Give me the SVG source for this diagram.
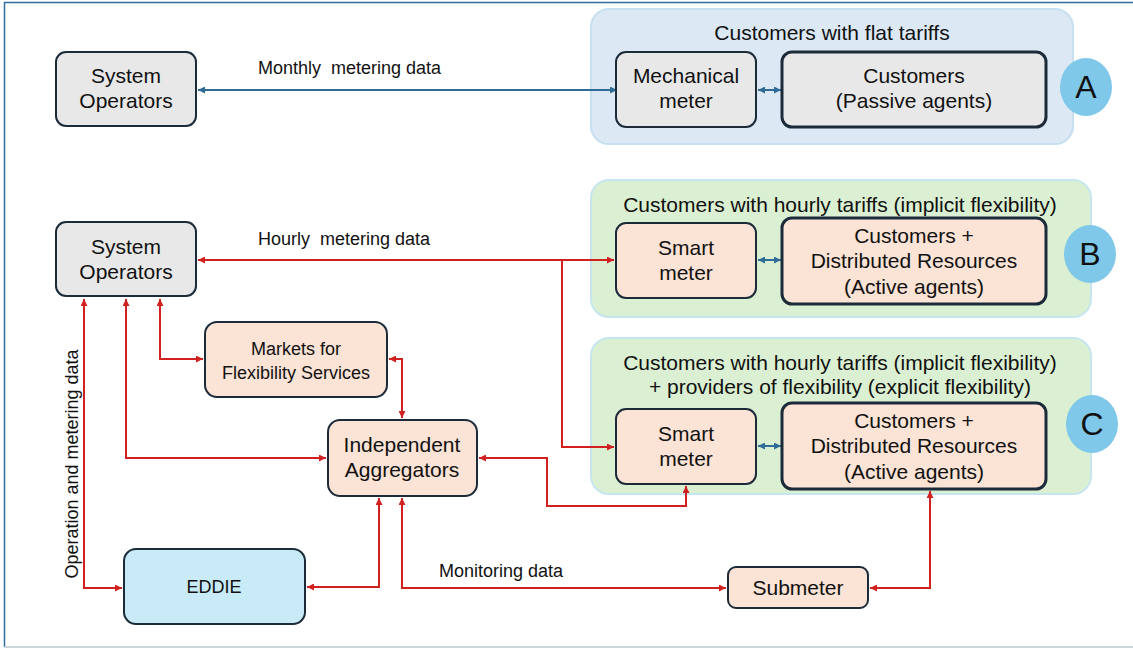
<svg xmlns="http://www.w3.org/2000/svg" width="1133" height="649" viewBox="0 0 1133 649">
<defs>
<style>
text{font-family:"Liberation Sans",Arial,sans-serif;fill:#111;}
.node{stroke:#1c2b3a;stroke-width:2;}
.thick{stroke:#1c2b3a;stroke-width:3;}
.grey{fill:#e8e8e8;}
.peach{fill:#fbe3d5;}
.cyan{fill:#c8ebf7;}
.nt{font-size:21px;text-anchor:middle;}
.tt{font-size:21px;text-anchor:middle;}
.lbl{font-size:18px;}
.sm{font-size:18px;}
.grpA{fill:#dce9f5;stroke:#c6e0f1;stroke-width:2;}
.grpG{fill:#dbf0d2;stroke:#c6e6ef;stroke-width:2;}
.circ{fill:#7fc8e9;}
.ct{font-size:32px;text-anchor:middle;}
.red{fill:none;stroke:#d02020;stroke-width:2;}
.blue{fill:none;stroke:#2e6b96;stroke-width:2;}
</style>
<marker id="ar" viewBox="0 0 10 10" refX="10" refY="5" markerWidth="7" markerHeight="7" markerUnits="userSpaceOnUse" orient="auto-start-reverse"><path d="M0,0 L10,5 L0,10 z" fill="#d02020"/></marker>
<marker id="ab" viewBox="0 0 10 10" refX="10" refY="5" markerWidth="7" markerHeight="7" markerUnits="userSpaceOnUse" orient="auto-start-reverse"><path d="M0,0 L10,5 L0,10 z" fill="#2e6b96"/></marker>
</defs>
<rect width="1133" height="649" fill="#ffffff"/>
<line x1="4" y1="2.5" x2="1133" y2="2.5" stroke="#2e6f9e" stroke-width="1.5"/>
<line x1="4.5" y1="2" x2="4.5" y2="647" stroke="#2e6f9e" stroke-width="1.5"/>
<line x1="4" y1="647" x2="1133" y2="647" stroke="#b9c6cf" stroke-width="1.5"/>

<g id="groupA">
<rect class="grpA" x="591" y="9" width="482" height="135" rx="18"/>
<text class="tt" x="832" y="40">Customers with flat tariffs</text>
</g>
<g id="groupB">
<rect class="grpG" x="591" y="180" width="500" height="137" rx="18"/>
<text class="tt" x="840" y="212">Customers with hourly tariffs (implicit flexibility)</text>
</g>
<g id="groupC">
<rect class="grpG" x="591" y="338" width="500" height="156" rx="18"/>
<text class="tt" x="840" y="370">Customers with hourly tariffs (implicit flexibility)</text>
<text class="tt" x="840" y="394">+ providers of flexibility (explicit flexibility)</text>
</g>

<g id="connectors">
<path class="blue" d="M617,90 H198" marker-start="url(#ab)" marker-end="url(#ab)"/>
<path class="blue" d="M758,90 H781" marker-start="url(#ab)" marker-end="url(#ab)"/>
<path class="blue" d="M758,260 H781" marker-start="url(#ab)" marker-end="url(#ab)"/>
<path class="blue" d="M758,446 H781" marker-start="url(#ab)" marker-end="url(#ab)"/>
<path class="red" d="M198,260 H614" marker-start="url(#ar)" marker-end="url(#ar)"/>
<path class="red" d="M562,260 V447 H614" marker-end="url(#ar)"/>
<path class="red" d="M84,299 V588 H122" marker-start="url(#ar)" marker-end="url(#ar)"/>
<path class="red" d="M126,299 V458 H326" marker-start="url(#ar)" marker-end="url(#ar)"/>
<path class="red" d="M160,299 V359 H203" marker-start="url(#ar)" marker-end="url(#ar)"/>
<path class="red" d="M389,359 H402 V418" marker-start="url(#ar)" marker-end="url(#ar)"/>
<path class="red" d="M479,458 H547 V506 H686 V486" marker-start="url(#ar)" marker-end="url(#ar)"/>
<path class="red" d="M379,498 V587 H307" marker-start="url(#ar)" marker-end="url(#ar)"/>
<path class="red" d="M402,498 V588 H726" marker-start="url(#ar)" marker-end="url(#ar)"/>
<path class="red" d="M870,588 H930 V491" marker-start="url(#ar)" marker-end="url(#ar)"/>
<text class="lbl" x="258" y="74">Monthly&#160; metering data</text>
<text class="lbl" x="258" y="245">Hourly&#160; metering data</text>
<text class="lbl" x="439" y="577">Monitoring data</text>
<text class="lbl" x="78" y="464" text-anchor="middle" transform="rotate(-90 78 464)">Operation and metering data</text>
</g>

<g id="so1">
<rect class="node grey" x="56" y="52" width="140" height="74" rx="10"/>
<text class="nt" x="126" y="83">System</text>
<text class="nt" x="126" y="108">Operators</text>
</g>
<g id="mech">
<rect class="node grey" x="616" y="52" width="140" height="75" rx="10"/>
<text class="nt" x="686" y="83">Mechanical</text>
<text class="nt" x="686" y="108">meter</text>
</g>
<g id="custA">
<rect class="thick grey" x="782" y="52" width="264" height="75" rx="10"/>
<text class="nt" x="914" y="83">Customers</text>
<text class="nt" x="914" y="108">(Passive agents)</text>
</g>
<g id="circA">
<ellipse class="circ" cx="1086" cy="87" rx="26" ry="29"/>
<text class="ct" x="1086" y="98">A</text>
</g>

<g id="so2">
<rect class="node grey" x="56" y="222" width="140" height="74" rx="10"/>
<text class="nt" x="126" y="254">System</text>
<text class="nt" x="126" y="279">Operators</text>
</g>
<g id="smartB">
<rect class="node peach" x="616" y="223" width="140" height="75" rx="10"/>
<text class="nt" x="686" y="255">Smart</text>
<text class="nt" x="686" y="280">meter</text>
</g>
<g id="custB">
<rect class="thick peach" x="782" y="218" width="264" height="86" rx="10"/>
<text class="nt" x="914" y="243">Customers +</text>
<text class="nt" x="914" y="268">Distributed Resources</text>
<text class="nt" x="914" y="294">(Active agents)</text>
</g>
<g id="circB">
<ellipse class="circ" cx="1090" cy="254" rx="26" ry="29"/>
<text class="ct" x="1090" y="265">B</text>
</g>

<g id="smartC">
<rect class="node peach" x="616" y="409" width="140" height="75" rx="10"/>
<text class="nt" x="686" y="441">Smart</text>
<text class="nt" x="686" y="466">meter</text>
</g>
<g id="custC">
<rect class="thick peach" x="782" y="403" width="264" height="86" rx="10"/>
<text class="nt" x="914" y="428">Customers +</text>
<text class="nt" x="914" y="453">Distributed Resources</text>
<text class="nt" x="914" y="479">(Active agents)</text>
</g>
<g id="circC">
<ellipse class="circ" cx="1092" cy="424" rx="26" ry="29"/>
<text class="ct" x="1092" y="435">C</text>
</g>

<g id="markets">
<rect class="node peach" x="205" y="322" width="182" height="75" rx="12"/>
<text class="nt sm" x="296" y="355">Markets for</text>
<text class="nt sm" x="296" y="379">Flexibility Services</text>
</g>
<g id="aggregators">
<rect class="node peach" x="328" y="420" width="149" height="76" rx="12"/>
<text class="nt" x="402" y="452">Independent</text>
<text class="nt" x="402" y="477">Aggregators</text>
</g>
<g id="eddie">
<rect class="node cyan" x="124" y="549" width="181" height="75" rx="12"/>
<text class="nt sm" x="214" y="593">EDDIE</text>
</g>
<g id="submeter">
<rect class="node peach" x="728" y="567" width="140" height="41" rx="8"/>
<text class="nt" x="798" y="595">Submeter</text>
</g>
</svg>
